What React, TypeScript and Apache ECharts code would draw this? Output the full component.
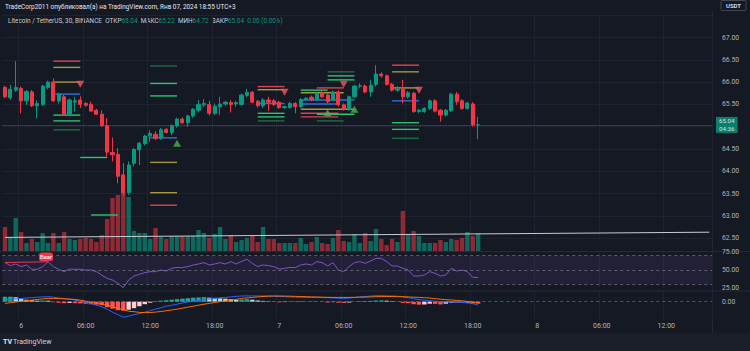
import React, { useEffect, useRef } from "react";
import * as echarts from "echarts";

// ---------- time axis ----------
const SLOT_COUNT = 132; // 30-min slots from Jan 5 22:30 (incl. empty future space)
const TICK_START = 3; // Jan 6 00:00
const TICK_STEP = 12; // every 6 hours
const tickLabels = ["6", "06:00", "12:00", "18:00", "7", "06:00", "12:00", "18:00", "8", "06:00", "12:00"];

// ---------- candles ----------
const opens = [65.88, 65.65, 65.82, 65.86, 65.58, 65.78, 65.47, 65.5, 65.88, 66.0, 65.58, 65.67, 65.28, 65.55, 65.6, 65.52, 65.5, 65.37, 65.28, 65.02, 64.42, 64.38, 63.92, 63.52, 64.18, 64.48, 64.62, 64.79, 64.83, 64.74, 64.94, 64.87, 65.02, 65.17, 65.09, 65.24, 65.37, 65.49, 65.5, 65.3, 65.45, 65.51, 65.54, 65.51, 65.5, 65.7, 65.77, 65.57, 65.47, 65.6, 65.58, 65.55, 65.43, 65.43, 65.52, 65.45, 65.61, 65.66, 65.61, 65.76, 65.71, 65.6, 65.78, 65.49, 65.39, 65.67, 65.91, 65.91, 65.78, 65.95, 66.18, 66.14, 65.95, 65.82, 65.84, 65.67, 65.75, 65.34, 65.34, 65.41, 65.58, 65.37, 65.26, 65.36, 65.73, 65.58, 65.41, 65.51, 65.04];
const highs = [65.92, 65.94, 66.47, 65.9, 65.82, 65.82, 65.59, 65.94, 66.03, 66.08, 65.76, 65.72, 65.63, 65.67, 65.68, 65.55, 65.56, 65.4, 65.37, 65.19, 64.76, 64.52, 64.18, 64.22, 64.52, 64.66, 64.82, 64.92, 64.9, 64.97, 64.97, 65.05, 65.2, 65.21, 65.27, 65.42, 65.6, 65.62, 65.58, 65.52, 65.67, 65.58, 65.6, 65.58, 65.74, 65.85, 65.8, 65.6, 65.64, 65.67, 65.62, 65.58, 65.47, 65.56, 65.55, 65.64, 65.66, 65.7, 65.78, 65.8, 65.75, 65.81, 65.82, 65.52, 65.7, 65.94, 65.97, 65.95, 66.05, 66.38, 66.22, 66.17, 65.98, 65.91, 66.05, 65.8, 65.78, 65.4, 65.44, 65.61, 65.62, 65.4, 65.4, 65.76, 65.78, 65.62, 65.56, 65.55, 65.22];
const lows = [65.64, 65.6, 65.78, 65.3, 65.49, 65.44, 65.19, 65.46, 65.84, 65.55, 65.52, 65.26, 65.26, 65.34, 65.42, 65.45, 65.33, 65.26, 65.0, 64.33, 64.22, 63.73, 63.45, 63.47, 64.11, 64.14, 64.58, 64.66, 64.7, 64.7, 64.85, 64.81, 64.98, 65.06, 65.0, 65.2, 65.32, 65.44, 65.25, 65.26, 65.26, 65.47, 65.32, 65.45, 65.47, 65.66, 65.52, 65.43, 65.42, 65.35, 65.46, 65.4, 65.4, 65.4, 65.3, 65.42, 65.58, 65.57, 65.58, 65.64, 65.53, 65.57, 65.45, 65.36, 65.36, 65.64, 65.87, 65.75, 65.67, 65.9, 66.1, 65.92, 65.79, 65.78, 65.52, 65.63, 65.31, 65.3, 65.31, 65.38, 65.32, 65.11, 65.23, 65.33, 65.49, 65.38, 65.38, 65.0, 64.72];
const closes = [65.67, 65.84, 65.88, 65.58, 65.79, 65.47, 65.52, 65.91, 66.0, 65.58, 65.73, 65.28, 65.6, 65.58, 65.5, 65.48, 65.35, 65.28, 65.02, 64.43, 64.37, 63.89, 63.52, 64.14, 64.49, 64.63, 64.79, 64.85, 64.74, 64.93, 64.87, 65.02, 65.17, 65.09, 65.24, 65.39, 65.5, 65.52, 65.3, 65.46, 65.51, 65.55, 65.5, 65.54, 65.71, 65.77, 65.55, 65.47, 65.6, 65.55, 65.5, 65.43, 65.45, 65.52, 65.45, 65.61, 65.64, 65.6, 65.75, 65.67, 65.56, 65.78, 65.49, 65.39, 65.67, 65.91, 65.92, 65.78, 65.93, 66.18, 66.14, 65.95, 65.82, 65.84, 65.67, 65.76, 65.34, 65.37, 65.41, 65.58, 65.35, 65.26, 65.37, 65.73, 65.56, 65.41, 65.53, 65.04, 65.04];
const lastPrice = 65.04;
const lastPriceText = "65.04";
const countdownText = "04:36";

// ---------- volume ----------
const volumes = [24, 14, 33, 19, 8, 12, 9, 18, 8, 18, 8, 19, 12, 11, 12, 13, 12, 9, 16, 32, 53, 56, 59, 54, 20, 18, 18, 12, 23, 14, 12, 15, 15, 15, 15, 15, 21, 18, 13, 17, 24, 12, 16, 9, 11, 13, 15, 9, 24, 12, 12, 8, 8, 8, 8, 13, 7, 9, 14, 8, 7, 13, 21, 10, 9, 17, 8, 18, 10, 22, 12, 6, 12, 9, 40, 16, 20, 15, 8, 8, 8, 11, 9, 12, 11, 13, 19, 15, 18];
const volumeTrend = [[0, 13.6], [131, 18.8]];

// ---------- RSI ----------
const rsi = [60.5, 56, 58.4, 54.7, 57, 51, 51, 54.7, 61.5, 54.7, 51, 47.7, 51.4, 51, 51, 50, 50, 47.7, 43, 38.3, 36, 31.4, 25.3, 36, 41.6, 44, 46.3, 47.7, 47.7, 50, 48.6, 52.3, 53.7, 53.3, 54.7, 57, 58.4, 60.3, 57, 58.4, 60.3, 58.4, 61.7, 58.4, 62, 65, 59.3, 54.7, 57, 56.1, 54.7, 51.4, 52.3, 53.7, 53.3, 57, 58.4, 57, 61.7, 60.3, 55.6, 60.3, 50, 47.7, 54.7, 60.3, 61.7, 59.3, 62.5, 66.3, 66.3, 61.7, 55.6, 55.6, 52.3, 50, 41.6, 41.6, 43, 47.7, 45.3, 41.6, 43, 52.3, 48.6, 50, 47.7, 39.7, 39.7];
const bearDivergence = [[0, 60.5], [8, 61.5]];
const rsiLevels = [70, 50, 30];

// ---------- MACD ----------
const macdLine = [0.017, 0.022, 0.028, 0.033, 0.037, 0.04, 0.045, 0.048, 0.05, 0.045, 0.037, 0.03, 0.025, 0.015, 0.005, -0.005, -0.02, -0.035, -0.05, -0.075, -0.105, -0.13, -0.155, -0.145, -0.13, -0.12, -0.105, -0.09, -0.075, -0.06, -0.045, -0.035, -0.025, -0.012, -0.003, 0.005, 0.012, 0.02, 0.027, 0.033, 0.038, 0.043, 0.048, 0.053, 0.057, 0.058, 0.058, 0.057, 0.057, 0.057, 0.054, 0.052, 0.05, 0.048, 0.046, 0.045, 0.044, 0.043, 0.043, 0.042, 0.04, 0.038, 0.035, 0.033, 0.036, 0.042, 0.048, 0.052, 0.056, 0.06, 0.06, 0.058, 0.057, 0.055, 0.048, 0.04, 0.03, 0.02, 0.015, 0.01, 0.005, 0.0, -0.002, -0.003, -0.005, -0.008, -0.012, -0.02, -0.033];
const signalLine = [-0.017, -0.01, -0.003, 0.004, 0.01, 0.016, 0.022, 0.028, 0.033, 0.033, 0.031, 0.029, 0.026, 0.023, 0.015, 0.005, -0.005, -0.015, -0.025, -0.035, -0.05, -0.065, -0.08, -0.095, -0.1, -0.107, -0.11, -0.108, -0.104, -0.098, -0.09, -0.083, -0.075, -0.065, -0.055, -0.045, -0.035, -0.025, -0.017, -0.008, 0.0, 0.008, 0.016, 0.024, 0.033, 0.038, 0.043, 0.048, 0.052, 0.055, 0.057, 0.057, 0.056, 0.055, 0.053, 0.052, 0.05, 0.048, 0.047, 0.045, 0.044, 0.043, 0.043, 0.043, 0.043, 0.044, 0.045, 0.046, 0.048, 0.05, 0.051, 0.052, 0.052, 0.051, 0.05, 0.048, 0.045, 0.043, 0.04, 0.036, 0.03, 0.025, 0.02, 0.017, 0.013, 0.008, 0.003, -0.003, -0.01];
const macdHist = [0.05, 0.05, 0.045, 0.03, 0.02, 0.015, 0.01, 0.012, 0.01, -0.005, -0.01, -0.015, -0.012, -0.015, -0.017, -0.02, -0.025, -0.03, -0.035, -0.055, -0.07, -0.085, -0.09, -0.08, -0.065, -0.045, -0.025, -0.01, -0.003, 0.01, 0.015, 0.02, 0.025, 0.03, 0.035, 0.04, 0.042, 0.045, 0.04, 0.038, 0.035, 0.03, 0.025, 0.02, 0.022, 0.025, 0.02, 0.012, 0.008, 0.004, -0.003, -0.006, -0.004, -0.002, -0.004, -0.003, 0.002, -0.003, 0.002, -0.003, -0.008, -0.004, -0.01, -0.012, -0.008, 0.002, 0.005, 0.006, 0.008, 0.012, 0.013, 0.01, 0.005, -0.003, -0.012, -0.015, -0.025, -0.03, -0.028, -0.02, -0.022, -0.027, -0.02, -0.01, -0.008, -0.012, -0.01, -0.018, -0.02];

// ---------- indicator levels: [startIndex, endIndex, price, kind] ----------
const levels: [number, number, number, string][] = [
  [9, 14, 66.47, "r"], [9, 14, 66.33, "y"], [9, 14, 66.0, "y"], [9, 14, 65.73, "b"], [9, 14, 65.26, "g"], [9, 14, 65.13, "g"], [9, 14, 64.93, "d"],
  [14, 19, 64.31, "g"], [16, 21, 63.02, "g"],
  [27, 32, 66.36, "d"], [27, 32, 65.97, "g"], [27, 32, 65.69, "g"], [27, 32, 64.75, "b"], [27, 32, 64.2, "y"], [27, 32, 63.52, "y"], [27, 32, 63.24, "r"],
  [47, 52, 65.9, "r"], [47, 52, 65.83, "y"], [47, 52, 65.52, "b"], [47, 52, 65.3, "g"], [47, 52, 65.22, "g"], [47, 52, 65.13, "d"],
  [60, 65, 66.23, "d"], [60, 65, 66.14, "g"], [60, 65, 66.05, "g"],
  [58, 63, 65.87, "r"], [55, 63, 65.76, "y"], [55, 60, 65.82, "g"], [55, 65, 65.6, "b"], [55, 62, 65.51, "b"], [55, 65, 65.39, "y"], [55, 62, 65.3, "r"], [55, 62, 65.22, "r"], [58, 65, 65.28, "g"], [58, 63, 65.13, "d"],
  [72, 77, 66.38, "r"], [72, 77, 66.23, "y"], [72, 77, 65.87, "y"], [72, 77, 65.58, "b"], [72, 77, 65.09, "g"], [72, 77, 64.94, "g"], [72, 77, 64.74, "d"],
];
// ---------- signal triangles: [index, price] ----------
const sellSignals = [[14, 65.95], [52, 65.77], [63, 65.95], [77, 65.82]];
const buySignals = [[32, 64.63], [60, 65.31], [65, 65.39]];

const UP = "#089981";
const DOWN = "#f23645";
const AXIS_TEXT = "#b2b5be";
const GRID_LINE = "#1f2330";
const FONT = "Roboto, 'Noto Sans', sans-serif";
const levelColors: Record<string, string> = { r: "#e0424f", y: "#a6983e", b: "#2f6fe0", g: "#2bc46f", d: "#1d6b48" };

const categories = Array.from({ length: SLOT_COUNT }, (_, i) => String(i));
const isTick = (i: number) => i >= TICK_START && (i - TICK_START) % TICK_STEP === 0 && (i - TICK_START) / TICK_STEP < tickLabels.length;

export default function App() {
  const ref = useRef<HTMLDivElement>(null);
  useEffect(() => {
    if (!ref.current) return;
    const chart = echarts.init(ref.current, null, { renderer: "svg" });
    const L = 2.3;
    const R = 38;
    const gridTops = [15.2, 181, 252.1, 291.7];
    const gridHeights = [223, 70, 35.8, 28];
    const grids = gridTops.map((t, i) => ({ left: L, right: R, top: t, height: gridHeights[i], containLabel: false }));

    const xAxes = grids.map((_, i) => ({
      type: "category",
      gridIndex: i,
      data: categories,
      boundaryGap: true,
      axisLine: { show: false },
      axisTick: { show: false },
      axisLabel: i === 3
        ? {
            show: true,
            interval: (idx: number) => isTick(idx),
            formatter: (_v: string, idx: number) => (isTick(idx) ? tickLabels[(idx - TICK_START) / TICK_STEP] : ""),
            color: AXIS_TEXT,
            fontSize: 7,
            fontFamily: FONT,
            margin: 3,
          }
        : { show: false },
      splitLine: i === 1 ? { show: false } : { show: true, interval: (idx: number) => isTick(idx), lineStyle: { color: GRID_LINE, width: 1 } },
    }));

    const labelBase = { color: AXIS_TEXT, fontSize: 6.8, fontFamily: FONT, margin: 10 };
    const yAxes = [
      {
        gridIndex: 0, type: "value", position: "right", min: 62.5, max: 67.5, interval: 0.5,
        axisLine: { show: false }, axisTick: { show: false },
        // the tick label hidden under the last-price tag is dropped, as TradingView does
        axisLabel: { ...labelBase, formatter: (v: number) => (v > 67.01 || Math.abs(v - lastPrice) < 0.2 ? "" : v.toFixed(2)) },
        splitLine: { show: true, lineStyle: { color: GRID_LINE, width: 1 } },
      },
      { gridIndex: 1, type: "value", min: 0, max: 70, show: false },
      {
        gridIndex: 2, type: "value", position: "right", min: 25, max: 75, interval: 25,
        axisLine: { show: false }, axisTick: { show: false },
        axisLabel: { ...labelBase, formatter: (v: number) => v.toFixed(2) },
        splitLine: { show: false },
      },
      {
        gridIndex: 3, type: "value", position: "right", min: -0.18, max: 0.1, interval: 0.02,
        axisLine: { show: false }, axisTick: { show: false },
        axisLabel: { ...labelBase, formatter: (v: number) => (Math.abs(v) < 1e-6 ? "0.00" : "") },
        splitLine: { show: false },
      },
    ];

    const candleData = opens.map((o, i) => {
      const item: any = { value: [o, closes[i], lows[i], highs[i]] };
      if (o === closes[i]) item.itemStyle = { color: UP, borderColor: UP, color0: UP, borderColor0: UP };
      return item;
    });

    const volumeData = volumes.map((v, i) => ({
      value: v,
      itemStyle: { color: closes[i] >= opens[i] ? "rgba(8,153,129,0.62)" : "rgba(242,54,69,0.55)" },
    }));

    const histData = macdHist.map((v, i) => {
      const p = i > 0 ? macdHist[i - 1] : v;
      let c;
      if (v >= 0) c = v >= p ? "#26a69a" : "#b2dfdb";
      else c = v <= p ? "#ff5252" : "#ffcdd2";
      return { value: v, itemStyle: { color: c } };
    });

    const option: any = {
      animation: false,
      backgroundColor: "#151924",
      textStyle: { fontFamily: FONT },
      grid: grids,
      xAxis: xAxes,
      yAxis: yAxes,
      graphic: [
        { type: "rect", silent: true, z: -10, shape: { x: 0, y: 333, width: 750, height: 18 }, style: { fill: "#1a1e29" } },
        { type: "line", silent: true, shape: { x1: 712.5, y1: 12, x2: 712.5, y2: 333 }, style: { stroke: "#262a36", lineWidth: 1 } },
        { type: "line", silent: true, shape: { x1: 0, y1: 251.5, x2: 750, y2: 251.5 }, style: { stroke: "#262a36", lineWidth: 1 } },
        { type: "line", silent: true, shape: { x1: 0, y1: 291, x2: 750, y2: 291 }, style: { stroke: "#262a36", lineWidth: 1 } },
        {
          type: "text", x: 5, y: 7, silent: true,
          style: { text: "TradeCorp2011 опубликовал(а) на TradingView.com, Янв 07, 2024 18:55 UTC+3", fill: "#e6e8ee", fontSize: 6.4, fontFamily: FONT, verticalAlign: "middle" },
        },
        {
          type: "text", x: 8, y: 20.5, silent: true,
          style: {
            text: "{l|Litecoin / TetherUS, 30, BINANCE}  {l|ОТКР}{v|65.04}  {l|МАКС}{v|65.22}  {l|МИН}{v|64.72}  {l|ЗАКР}{v|65.04}  {v|0.00 (0.00%)}",
            fontSize: 6.4, fontFamily: FONT, verticalAlign: "middle",
            rich: {
              l: { fill: "#c9ccd4", fontSize: 6.4, fontFamily: FONT },
              v: { fill: "#089981", fontSize: 6.4, fontFamily: FONT },
            },
          },
        },
        { type: "rect", silent: true, shape: { x: 721, y: 0.5, width: 25, height: 10, r: 1 }, style: { fill: "#151924", stroke: "#434651", lineWidth: 1 } },
        { type: "text", x: 733.5, y: 5.5, silent: true, style: { text: "USDT", fill: "#d1d4dc", fontSize: 6, fontWeight: "bold", fontFamily: FONT, align: "center", verticalAlign: "middle" } },
        { type: "text", x: 3, y: 342, silent: true, style: { text: "TV", fill: "#d1d4dc", fontSize: 7, fontWeight: 900, fontFamily: FONT, verticalAlign: "middle" } },
        { type: "text", x: 13, y: 342, silent: true, style: { text: "TradingView", fill: "#d1d4dc", fontSize: 7, fontFamily: FONT, verticalAlign: "middle" } },
      ],
      series: [
        {
          type: "bar", name: "volume", xAxisIndex: 1, yAxisIndex: 1, data: volumeData, barWidth: "82%", silent: true, z: 1,
        },
        {
          type: "line", name: "volTrend", xAxisIndex: 1, yAxisIndex: 1, data: volumeTrend, showSymbol: false, silent: true,
          lineStyle: { color: "#c9cbd1", width: 1 }, z: 2,
        },
        {
          type: "custom", name: "levels", xAxisIndex: 0, yAxisIndex: 0, silent: true, z: 3,
          data: levels.map((l) => [l[0], l[1], l[2]]),
          encode: { x: [0, 1], y: 2 },
          renderItem: (params: any, api: any) => {
            const s = api.coord([api.value(0), api.value(2)]);
            const e = api.coord([api.value(1), api.value(2)]);
            const kind = levels[params.dataIndex][3];
            return {
              type: "line",
              shape: { x1: s[0], y1: s[1], x2: e[0], y2: s[1] },
              style: { stroke: levelColors[kind], lineWidth: 1.4 },
            };
          },
        },
        {
          type: "candlestick", name: "LTCUSDT", xAxisIndex: 0, yAxisIndex: 0, data: candleData, barWidth: "68%", z: 5,
          itemStyle: { color: UP, color0: DOWN, borderColor: UP, borderColor0: DOWN, borderWidth: 1 },
          markLine: {
            silent: true, symbol: "none",
            data: [{ yAxis: lastPrice }],
            lineStyle: { color: UP, type: "dotted", width: 1, opacity: 0.8 },
            label: {
              show: true, position: "end", distance: 4,
              formatter: "{a|" + lastPriceText + "}\n{b|" + countdownText + "}",
              backgroundColor: UP, padding: [0.5, 3],
              rich: {
                a: { color: "#ffffff", fontSize: 6.2, lineHeight: 7.5, fontFamily: FONT },
                b: { color: "#ffffff", fontSize: 6.2, lineHeight: 7.5, fontFamily: FONT },
              },
            },
          },
        },
        {
          type: "scatter", name: "sell", xAxisIndex: 0, yAxisIndex: 0, data: sellSignals, symbol: "triangle",
          symbolSize: [8, 7], symbolRotate: 180, itemStyle: { color: "#f7525f" }, silent: true, z: 6,
        },
        {
          type: "scatter", name: "buy", xAxisIndex: 0, yAxisIndex: 0, data: buySignals, symbol: "triangle",
          symbolSize: [8, 7], itemStyle: { color: "#4caf50" }, silent: true, z: 6,
        },
        {
          type: "line", name: "RSI", xAxisIndex: 2, yAxisIndex: 2, data: rsi, showSymbol: false, silent: true,
          lineStyle: { color: "#7e57c2", width: 1 },
          markArea: { silent: true, itemStyle: { color: "rgba(126,87,194,0.12)" }, data: [[{ yAxis: 30 }, { yAxis: 70 }]] },
          markLine: {
            silent: true, symbol: "none", label: { show: false },
            lineStyle: { color: "#787b86", type: [3, 3], width: 1, opacity: 0.7 },
            data: rsiLevels.map((v) => ({ yAxis: v })),
          },
        },
        {
          type: "line", name: "bearDiv", xAxisIndex: 2, yAxisIndex: 2, data: bearDivergence, showSymbol: false, silent: true,
          lineStyle: { color: "#f23645", width: 1 }, z: 4,
          markPoint: {
            silent: true,
            data: [{
              coord: bearDivergence[1], symbol: "roundRect", symbolSize: [14, 8.5], symbolOffset: [-2, -5],
              itemStyle: { color: "#f23645" },
              label: { show: true, formatter: "Bear", color: "#ffffff", fontSize: 6, fontFamily: FONT },
            }],
          },
        },
        {
          type: "bar", name: "hist", xAxisIndex: 3, yAxisIndex: 3, data: histData, barWidth: "82%", silent: true,
          markLine: {
            silent: true, symbol: "none", label: { show: false },
            lineStyle: { color: "#787b86", type: [3, 3], width: 1, opacity: 0.6 },
            data: [{ yAxis: 0 }],
          },
        },
        {
          type: "line", name: "macd", xAxisIndex: 3, yAxisIndex: 3, data: macdLine, showSymbol: false, silent: true,
          lineStyle: { color: "#2962ff", width: 1 },
        },
        {
          type: "line", name: "signal", xAxisIndex: 3, yAxisIndex: 3, data: signalLine, showSymbol: false, silent: true,
          lineStyle: { color: "#ff6d00", width: 1 },
        },
      ],
    };
    chart.setOption(option);
    return () => chart.dispose();
  }, []);

  return (
    <div
      ref={ref}
      style={{ position: "fixed", left: 0, top: 0, width: 750, height: 351, background: "#151924" }}
    />
  );
}
